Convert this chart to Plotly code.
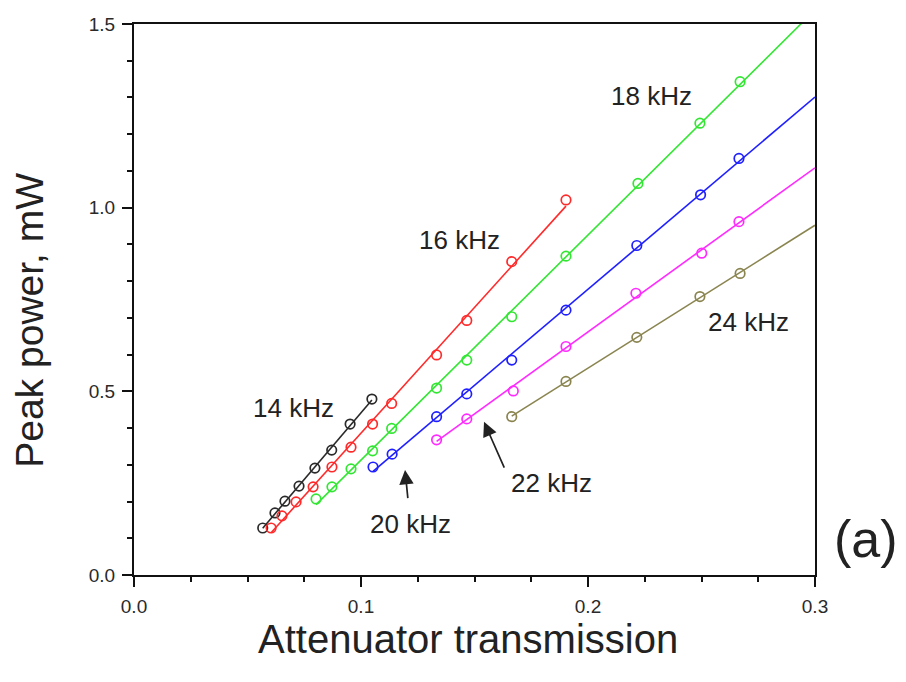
import numpy as np
import plotly.graph_objects as go

# Peak power (mW) versus attenuator transmission at several repetition rates
x_14 = [0.0567, 0.0621, 0.0665, 0.0727, 0.0797, 0.0871, 0.0952, 0.1048]
y_14 = [0.128, 0.169, 0.201, 0.242, 0.291, 0.340, 0.411, 0.479]

x_16 = [0.0604, 0.0652, 0.0714, 0.0789, 0.0872, 0.0956, 0.1051, 0.1135,
        0.1333, 0.1466, 0.1664, 0.1903]
y_16 = [0.128, 0.161, 0.199, 0.240, 0.294, 0.348, 0.411, 0.467,
        0.599, 0.693, 0.853, 1.021]

x_18 = [0.0802, 0.0872, 0.0956, 0.1051, 0.1135, 0.1333, 0.1466, 0.1664,
        0.1903, 0.2220, 0.2493, 0.2670]
y_18 = [0.207, 0.240, 0.289, 0.338, 0.399, 0.509, 0.585, 0.703,
        0.868, 1.066, 1.230, 1.343]

x_20 = [0.1053, 0.1137, 0.1333, 0.1466, 0.1664, 0.1903, 0.2215, 0.2496, 0.2665]
y_20 = [0.294, 0.329, 0.431, 0.493, 0.585, 0.721, 0.897, 1.035, 1.134]

x_22 = [0.1333, 0.1466, 0.1671, 0.1903, 0.2211, 0.2501, 0.2665]
y_22 = [0.368, 0.425, 0.501, 0.622, 0.767, 0.876, 0.962]

x_24 = [0.1664, 0.1903, 0.2215, 0.2493, 0.2670]
y_24 = [0.431, 0.527, 0.647, 0.758, 0.821]

series = [
    ("14 kHz", x_14, y_14, "#2a2a2a", None),
    ("16 kHz", x_16, y_16, "#ff2a2a", None),
    ("18 kHz", x_18, y_18, "#33e633", 0.3),
    ("20 kHz", x_20, y_20, "#1f1fff", 0.3),
    ("22 kHz", x_22, y_22, "#ff2aff", 0.3),
    ("24 kHz", x_24, y_24, "#8a8550", 0.3),
]

FONT = "Liberation Sans, Arial, sans-serif"
TEXT_COLOR = "#222222"

fig = go.Figure()

for name, xs, ys, color, x_end in series:
    xs = np.asarray(xs)
    ys = np.asarray(ys)
    # least-squares straight line through each data set
    k, b = np.polyfit(xs, ys, 1)
    x_fit = np.array([xs.min(), x_end if x_end is not None else xs.max()])
    fig.add_trace(go.Scatter(
        x=x_fit, y=k * x_fit + b, mode="lines",
        line=dict(color=color, width=1.6), showlegend=False, hoverinfo="skip",
    ))
    fig.add_trace(go.Scatter(
        x=xs, y=ys, mode="markers", name=name, showlegend=False,
        marker=dict(symbol="circle-open", size=9.5, color=color,
                    line=dict(color=color, width=1.7)),
    ))

label_font = dict(family=FONT, size=26, color=TEXT_COLOR)

labels = [
    ("14 kHz", 0.0703, 0.455),
    ("16 kHz", 0.1432, 0.912),
    ("18 kHz", 0.2278, 1.304),
    ("20 kHz", 0.1216, 0.139),
    ("22 kHz", 0.1841, 0.250),
    ("24 kHz", 0.2705, 0.689),
]
for text, lx, ly in labels:
    fig.add_annotation(x=lx, y=ly, text=text, showarrow=False, font=label_font,
                       xanchor="center", yanchor="middle")

# arrows pointing at the 20 kHz and 22 kHz data sets
arrows = [
    (0.1194, 0.286, 0.1207, 0.205),
    (0.1542, 0.417, 0.1634, 0.288),
]
for tx, ty, sx, sy in arrows:
    fig.add_annotation(x=tx, y=ty, ax=sx, ay=sy, xref="x", yref="y",
                       axref="x", ayref="y", text="", showarrow=True,
                       arrowhead=2, arrowsize=1.7, arrowwidth=1.7,
                       arrowcolor=TEXT_COLOR)

# panel tag and axis titles
fig.add_annotation(x=1.075, y=0.065, xref="paper", yref="paper", text="(a)",
                   showarrow=False, xanchor="center", yanchor="middle",
                   font=dict(family=FONT, size=52, color=TEXT_COLOR))
fig.add_annotation(x=0.4905, y=-0.116, xref="paper", yref="paper",
                   text="Attenuator transmission", showarrow=False,
                   xanchor="center", yanchor="middle",
                   font=dict(family=FONT, size=40, color=TEXT_COLOR))
fig.add_annotation(x=-0.153, y=0.463, xref="paper", yref="paper",
                   text="Peak power, mW", showarrow=False, textangle=-90,
                   xanchor="center", yanchor="middle",
                   font=dict(family=FONT, size=39, color=TEXT_COLOR))

axis_common = dict(
    showgrid=False, zeroline=False, showline=True, linecolor="#111111",
    linewidth=2, mirror=True, ticks="outside", ticklen=10, tickwidth=2,
    tickcolor="#111111",
    tickfont=dict(family=FONT, size=19, color="#2a2a2a"),
)

fig.update_xaxes(
    range=[0, 0.3], tickvals=[0, 0.1, 0.2, 0.3], tickformat=".1f",
    ticklabelstandoff=3,
    minor=dict(dtick=0.025, ticks="outside", ticklen=5, tickwidth=2,
               tickcolor="#111111"),
    **axis_common,
)
fig.update_yaxes(
    range=[0, 1.5], tickvals=[0, 0.5, 1.0, 1.5], tickformat=".1f",
    ticklabelstandoff=3,
    minor=dict(dtick=0.1, ticks="outside", ticklen=5, tickwidth=2,
               tickcolor="#111111"),
    **axis_common,
)

fig.update_layout(
    width=906, height=682,
    margin=dict(l=134, r=91, t=24, b=107),
    paper_bgcolor="white", plot_bgcolor="white",
    showlegend=False,
)

fig.write_html("out.html", config={"displayModeBar": False})
